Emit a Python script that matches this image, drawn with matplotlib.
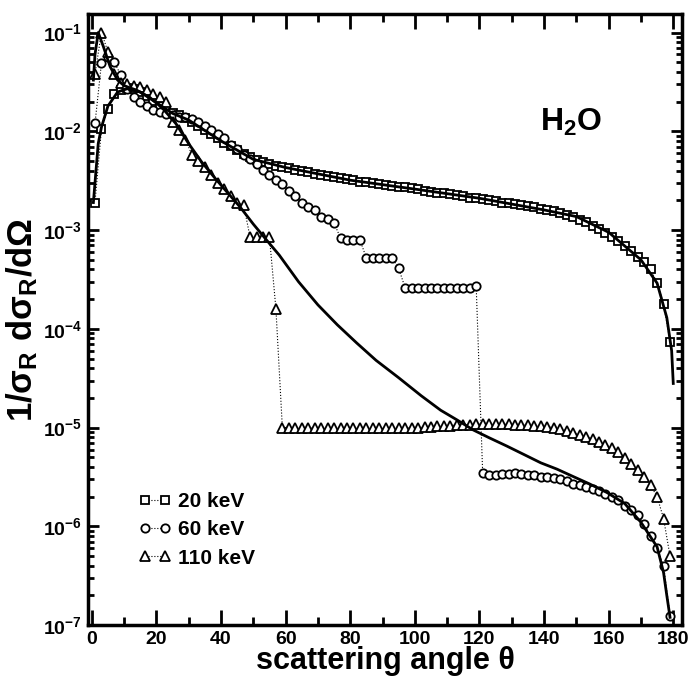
import numpy as np
import matplotlib
matplotlib.use('Agg')
import matplotlib.pyplot as plt
from matplotlib.ticker import MultipleLocator, LogLocator, FuncFormatter, NullFormatter

FONT = 'Liberation Sans'
plt.rcParams['font.family'] = [FONT, 'DejaVu Sans']
plt.rcParams['font.weight'] = 'bold'
plt.rcParams['mathtext.fontset'] = 'custom'
for k in ['rm', 'it', 'bf', 'sf']:
    plt.rcParams['mathtext.' + k] = FONT + ':bold'

# scattering angles of the simulated points (degrees)
angles = list(range(1, 180, 2))

# 20 keV
y20 = [0.0019, 0.0105, 0.017, 0.024, 0.0265, 0.0275, 0.027, 0.025, 0.0228, 0.0205,
       0.018, 0.0163, 0.0152, 0.0145, 0.0137, 0.0125, 0.0114, 0.0103, 0.0094, 0.0085,
       0.0077, 0.0071, 0.0065, 0.0059, 0.0055, 0.0051, 0.0049, 0.0047, 0.0045, 0.0044,
       0.0043, 0.0041, 0.0040, 0.0039, 0.0037, 0.0036, 0.0035, 0.00345, 0.0034, 0.0033,
       0.0032, 0.0031, 0.00305, 0.0030, 0.0029, 0.00285, 0.0028, 0.00275, 0.0027, 0.00265,
       0.0026, 0.0025, 0.00245, 0.0024, 0.00235, 0.0023, 0.00225, 0.0022, 0.0021, 0.0021,
       0.00205, 0.0020, 0.00197, 0.0019, 0.0019, 0.00185, 0.0018, 0.00175, 0.0017, 0.00165,
       0.0016, 0.00155, 0.0015, 0.00143, 0.00135, 0.00127, 0.0012, 0.0011, 0.00102, 0.00093,
       0.00085, 0.00077, 0.00069, 0.00062, 0.00054, 0.00047, 0.0004, 0.00029, 0.00018, 7.4e-5]

# 60 keV
y60 = [0.012, 0.049, 0.056, 0.050, 0.037, 0.027, 0.022, 0.020, 0.018, 0.0165,
       0.0157, 0.015, 0.0145, 0.014, 0.0138, 0.0134, 0.0124, 0.0114, 0.0102, 0.0093,
       0.0086, 0.0073, 0.0066, 0.0058, 0.0052, 0.0047, 0.0041, 0.0036, 0.0032, 0.0029,
       0.0025, 0.0022, 0.0019, 0.0017, 0.0016, 0.00137, 0.0013, 0.00118, 8.3e-4, 8.0e-4,
       8.0e-4, 8.0e-4, 5.2e-4, 5.2e-4, 5.2e-4, 5.2e-4, 5.2e-4, 4.1e-4, 2.6e-4, 2.6e-4,
       2.6e-4, 2.6e-4, 2.6e-4, 2.6e-4, 2.6e-4, 2.6e-4, 2.6e-4, 2.6e-4, 2.6e-4, 2.7e-4,
       3.5e-6, 3.3e-6, 3.3e-6, 3.4e-6, 3.4e-6, 3.5e-6, 3.4e-6, 3.35e-6, 3.3e-6, 3.2e-6,
       3.15e-6, 3.1e-6, 3.0e-6, 2.85e-6, 2.7e-6, 2.6e-6, 2.5e-6, 2.4e-6, 2.3e-6, 2.15e-6,
       2.0e-6, 1.85e-6, 1.6e-6, 1.45e-6, 1.3e-6, 1.05e-6, 8.0e-7, 6.0e-7, 4.0e-7, 1.25e-7]

# 110 keV
y110 = [0.038, 0.10, 0.064, 0.038, 0.031, 0.030, 0.029, 0.028, 0.026, 0.024,
        0.022, 0.020, 0.0125, 0.0102, 0.0082, 0.0058, 0.005, 0.0044, 0.0036, 0.003,
        0.0026, 0.0022, 0.0019, 0.0018, 8.5e-4, 8.5e-4, 8.5e-4, 8.5e-4, 1.6e-4, 1.0e-5,
        1.0e-5, 1.0e-5, 1.0e-5, 0.99e-5, 0.99e-5, 0.98e-5, 0.98e-5, 0.98e-5, 0.98e-5, 0.98e-5,
        0.98e-5, 0.98e-5, 0.98e-5, 0.98e-5, 0.98e-5, 0.98e-5, 0.98e-5, 0.99e-5, 0.99e-5, 1.0e-5,
        1.0e-5, 1.01e-5, 1.02e-5, 1.03e-5, 1.04e-5, 1.05e-5, 1.06e-5, 1.06e-5, 1.07e-5, 1.08e-5,
        1.08e-5, 1.08e-5, 1.08e-5, 1.08e-5, 1.08e-5, 1.07e-5, 1.07e-5, 1.06e-5, 1.05e-5, 1.04e-5,
        1.02e-5, 1.0e-5, 9.7e-6, 9.3e-6, 8.9e-6, 8.5e-6, 8.1e-6, 7.7e-6, 7.2e-6, 6.7e-6,
        6.2e-6, 5.6e-6, 4.9e-6, 4.3e-6, 3.7e-6, 3.2e-6, 2.6e-6, 2.0e-6, 1.2e-6, 5.0e-7]

# reference curves (solid lines)
th20_x = [0.5, 2, 3, 5, 8, 11, 15, 20, 25, 30, 40, 50, 60, 80, 100, 120, 140, 150,
          160, 170, 175, 178, 179.5, 180]
th20_y = [1.9e-3, 7.5e-3, 0.011, 0.018, 0.025, 0.027, 0.025, 0.0195, 0.0152, 0.013,
          0.0080, 0.0052, 0.0043, 0.0032, 0.0026, 0.0021, 0.0016, 0.00137, 0.00095,
          0.0005, 0.00029, 0.00013, 6e-5, 2.8e-5]

th110_x = [0.5, 1, 2, 3.6, 5.7, 8, 10, 14, 18, 22, 26, 30, 34, 38, 42, 46, 50, 54, 58,
           64, 70, 76, 82, 88, 95, 102, 108, 113, 118, 123, 128.5, 134, 139, 144, 149,
           154, 159.5, 165, 170, 175, 177, 178, 179]
th110_y = [0.033, 0.06, 0.1, 0.072, 0.045, 0.033, 0.029, 0.026, 0.022, 0.017, 0.012,
           0.0075, 0.0049, 0.0034, 0.0024, 0.0017, 0.00115, 8e-4, 5.6e-4, 3.0e-4,
           1.75e-4, 1.1e-4, 7.2e-5, 4.8e-5, 3.2e-5, 2.1e-5, 1.5e-5, 1.2e-5, 9.5e-6,
           7.9e-6, 6.5e-6, 5.3e-6, 4.4e-6, 3.8e-6, 3.2e-6, 2.7e-6, 2.2e-6, 1.7e-6,
           1.1e-6, 6.2e-7, 3.4e-7, 2e-7, 1.2e-7]

labels = ['20 keV', '60 keV', '110 keV']
markers = ['s', 'o', '^']
msizes = [5.5, 6, 6.5]

fig = plt.figure(figsize=(6.92, 6.87), dpi=100)
ax = fig.add_axes([0.127, 0.090, 0.859, 0.890])

for ys, lab, m, ms in zip([y20, y60, y110], labels, markers, msizes):
    ax.plot(angles, ys, linestyle=':', color='black', linewidth=0.8,
            marker=m, markersize=ms, markerfacecolor='white',
            markeredgecolor='black', markeredgewidth=1.3, label=lab)

ax.plot(th20_x, th20_y, color='black', linewidth=2)
ax.plot(th110_x, th110_y, color='black', linewidth=2)

ax.set_yscale('log')
ax.set_xlim(-1.2, 182.8)
ax.set_ylim(1e-7, 0.155)

ax.xaxis.set_major_locator(MultipleLocator(20))
ax.xaxis.set_minor_locator(MultipleLocator(10))
ax.yaxis.set_major_locator(LogLocator(base=10, numticks=20))
ax.yaxis.set_minor_locator(LogLocator(base=10, subs=np.arange(2, 10), numticks=20))
ax.yaxis.set_major_formatter(FuncFormatter(lambda v, p: r'$10^{%d}$' % round(np.log10(v))))
ax.yaxis.set_minor_formatter(NullFormatter())

ax.tick_params(which='both', direction='in', top=True, right=True, width=2,
               labelsize=14, pad=4)
ax.tick_params(axis='x', which='major', length=11)
ax.tick_params(axis='x', which='minor', length=6)
ax.tick_params(axis='y', which='major', length=8)
ax.tick_params(axis='y', which='minor', length=4)
for s in ax.spines.values():
    s.set_linewidth(2.5)

ax.set_xlabel('scattering angle θ', fontsize=22, fontweight='bold', labelpad=-1)
ax.set_ylabel(r'$1/\sigma_R\ d\sigma_R/d\Omega$', fontsize=25, labelpad=2)

ax.text(0.813, 0.822, r'H$_2$O', transform=ax.transAxes, fontsize=23,
        fontweight='bold', ha='center', va='center')

ax.legend(loc='upper left', bbox_to_anchor=(0.085, 0.218), frameon=False,
          numpoints=2, handlelength=1.6, handletextpad=0.3, labelspacing=0.45,
          borderpad=0, borderaxespad=0, prop={'size': 15, 'weight': 'bold'})

fig.savefig('out.png', dpi=100)
